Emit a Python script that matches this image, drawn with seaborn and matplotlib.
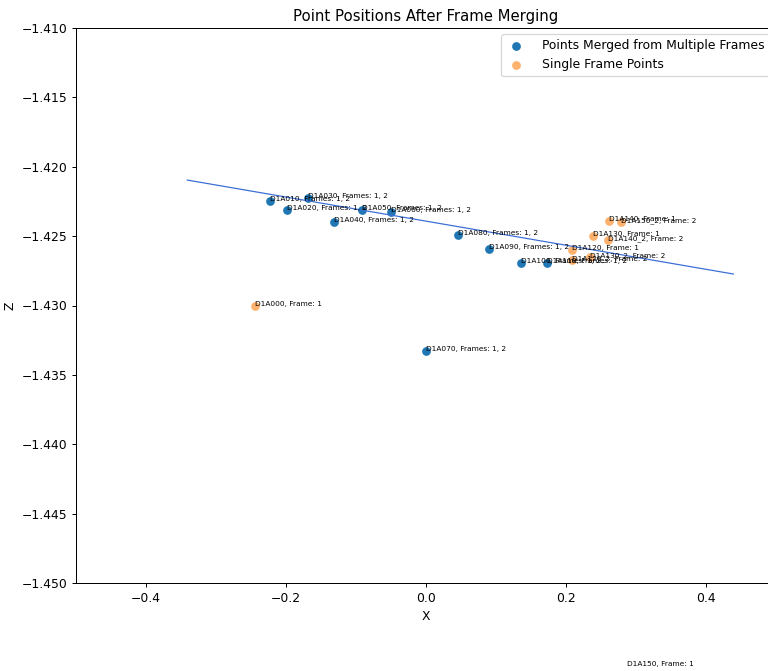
import matplotlib
matplotlib.use("Agg")
import matplotlib.pyplot as plt
import seaborn as sns
import pandas as pd

# Points merged from two frames
merged_names = ["D1A010", "D1A020", "D1A030", "D1A040", "D1A050", "D1A060",
                "D1A070", "D1A080", "D1A090", "D1A100", "D1A110"]
merged_x = [-0.2229, -0.1986, -0.1686, -0.1314, -0.0914, -0.0500,
            0.0000, 0.0457, 0.0900, 0.1357, 0.1729]
merged_z = [-1.42247, -1.42312, -1.42225, -1.42398, -1.42312, -1.42326,
            -1.43328, -1.42492, -1.42593, -1.42694, -1.42694]
merged_frames = ["1, 2"] * len(merged_names)

# Points seen in only one frame
single_names = ["D1A000", "D1A120", "D1A120_2", "D1A130", "D1A130_2",
                "D1A140", "D1A140_2", "D1A150", "D1A150_2"]
single_x = [-0.2443, 0.2086, 0.2086, 0.2386, 0.2343, 0.2614, 0.2600, 0.2870, 0.2786]
single_z = [-1.43004, -1.42600, -1.42672, -1.42499, -1.42651,
            -1.42391, -1.42528, -1.45598, -1.42398]
single_frames = [1, 1, 2, 1, 2, 1, 2, 1, 2]

# Fitted trend line
fit_x = [-0.341, 0.439]
fit_z = [-1.42096, -1.42773]

merged = pd.DataFrame({"X": merged_x, "Z": merged_z})
single = pd.DataFrame({"X": single_x, "Z": single_z})
fit = pd.DataFrame({"X": fit_x, "Z": fit_z})

fig = plt.figure(figsize=(768 / 89, 671 / 89), dpi=89)
ax = fig.add_axes([76 / 768, 88 / 671, 700 / 768, 555 / 671])

sns.scatterplot(data=merged, x="X", y="Z", ax=ax, color="#1f77b4", s=50,
                linewidth=0, label="Points Merged from Multiple Frames")
sns.scatterplot(data=single, x="X", y="Z", ax=ax, color="#ff7f0e", alpha=0.6,
                s=50, linewidth=0, label="Single Frame Points")
sns.lineplot(data=fit, x="X", y="Z", ax=ax, color="#3b6fd6", linewidth=1,
             legend=False)

for n, x, z, f in zip(merged_names, merged_x, merged_z, merged_frames):
    ax.text(x, z, f"{n}, Frames: {f}", fontsize=6)
for n, x, z, f in zip(single_names, single_x, single_z, single_frames):
    ax.text(x, z, f"{n}, Frame: {f}", fontsize=6)

ax.set_xlim(-0.5, 0.5)
ax.set_ylim(-1.45, -1.41)
ax.set_xlabel("X")
ax.set_ylabel("Z")
ax.set_title("Point Positions After Frame Merging")
ax.legend(loc="upper right", handlelength=1.6, handletextpad=1.3)

fig.savefig("out.png", dpi=89)
